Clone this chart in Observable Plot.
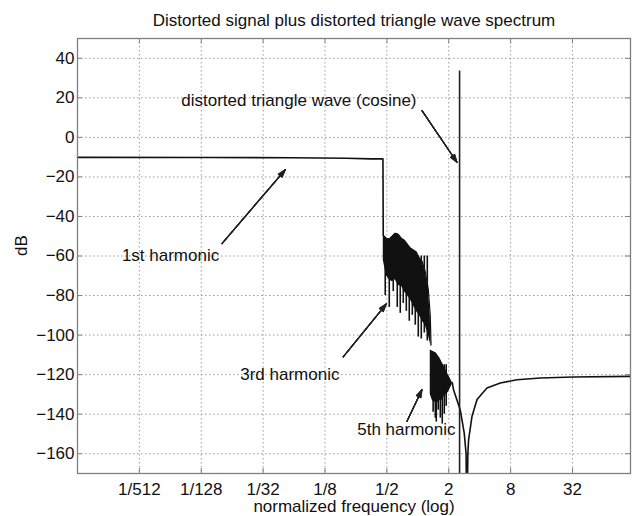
<!DOCTYPE html>
<html>
<head>
<meta charset="utf-8">
<script src="https://cdn.jsdelivr.net/npm/d3@7"></script>
<script src="https://cdn.jsdelivr.net/npm/@observablehq/plot@0.6"></script>
<style>
  html, body { margin: 0; padding: 0; background: #fff; }
  #chart svg { display: block; }
</style>
</head>
<body>
<div id="chart"></div>
<script>
// Axis ticks
const xTickValues = [1/512, 1/128, 1/32, 1/8, 1/2, 2, 8, 32];
const xTickLabels = ["1/512", "1/128", "1/32", "1/8", "1/2", "2", "8", "32"];
const yTickValues = [40, 20, 0, -20, -40, -60, -80, -100, -120, -140, -160];
const xDomain = [1/2048, 117.4];
const yDomain = [-170, 50];

// Fundamental (1st harmonic) plateau and its drop into the 3rd-harmonic band
const fundFreq = [0.000488, 0.01, 0.06, 0.2, 0.35, 0.458, 0.461];
const fundDb   = [-10.1, -10.2, -10.3, -10.6, -10.9, -10.9, -49.5];

// 3rd-harmonic band: upper and lower edge of the dense spectrum
const band1Freq   = [0.4613, 0.4935, 0.5278, 0.5646, 0.6037, 0.6456, 0.6905, 0.7385, 0.79, 0.845, 0.9036, 0.9666, 1.034, 1.106, 1.183, 1.265, 1.322, 1.345];
const band1Top    = [-49.5, -51, -51.5, -50, -48.5, -49, -51, -52, -54, -56, -57, -58, -61, -63, -68, -77, -90, -105];
const band1Bottom = [-62, -70, -72, -73, -72, -75, -75, -78, -80, -82, -85, -88, -90, -93, -95, -100, -104, -106];
// deepest dips inside the 3rd-harmonic band
const spike1Freq = [0.482, 0.5278, 0.577, 0.631, 0.675, 0.722, 0.773, 0.826, 0.884, 0.945, 1.011, 1.081, 1.157, 1.237];
const spike1Low  = [-80, -86, -78, -86, -89, -84, -88, -93, -90, -95, -101, -102, -99, -103];

// 5th-harmonic band
const band2Freq   = [1.322, 1.383, 1.447, 1.513, 1.582, 1.655, 1.730, 1.810, 1.893, 1.980, 2.071, 2.164];
const band2Top    = [-107.5, -108, -108.5, -109, -110.5, -112, -114, -116, -118, -120, -122, -124];
const band2Bottom = [-130, -133, -134, -134, -134, -133, -133, -131, -130, -129, -127, -125];
const spike2Freq = [1.41, 1.48, 1.513, 1.58, 1.655, 1.73, 1.81, 1.89];
const spike2Low  = [-139, -142, -144, -138, -142, -145, -140, -136];

// Smooth tail with the notch near 3
const tailFreq = [2.164, 2.23, 2.59, 2.83, 2.95, 3.0, 3.07, 3.12, 3.37, 3.77, 4.71, 6.35, 9.23, 15.6, 32.6, 117.4];
const tailDb   = [-124, -127.8, -137.9, -149.6, -160, -200, -160, -153, -141, -132.6, -126.8, -124.2, -122.6, -121.7, -121.2, -120.9];

// Distorted triangle wave (cosine) line
const toneFreq = [2.55];
const toneDb   = [33.6];

// Annotations
const annLabels    = ["distorted triangle wave (cosine)", "1st harmonic", "3rd harmonic", "5th harmonic"];
const annTextFreq  = [0.00499, 0.00132, 0.01872, 0.2574];
const annTextDb    = [18.5, -59.6, -120.1, -147.7];
const arrowFromFreq = [1.098, 0.01243, 0.188, 0.785];
const arrowFromDb   = [13.5, -53.7, -111, -143.6];
const arrowToFreq   = [2.405, 0.0513, 0.493, 1.098];
const arrowToDb     = [-12.6, -16.4, -84.3, -127.6];

const titleText = "Distorted signal plus distorted triangle wave spectrum";
const xLabel = "normalized frequency (log)";
const yLabel = "dB";

// Tables built from the arrays above
const fund = fundFreq.map((f, i) => ({f, db: fundDb[i]}));
const band1 = band1Freq.map((f, i) => ({f, top: band1Top[i], bottom: band1Bottom[i]}));
const spikes1 = spike1Freq.map((f, i) => ({f, low: spike1Low[i]}));
const band2 = band2Freq.map((f, i) => ({f, top: band2Top[i], bottom: band2Bottom[i]}));
const spikes2 = spike2Freq.map((f, i) => ({f, low: spike2Low[i]}));
const tail = tailFreq.map((f, i) => ({f, db: tailDb[i]}));
const tone = toneFreq.map((f, i) => ({f, db: toneDb[i]}));
const notes = annLabels.map((label, i) => ({
  label, tf: annTextFreq[i], tdb: annTextDb[i],
  x1: arrowFromFreq[i], y1: arrowFromDb[i], x2: arrowToFreq[i], y2: arrowToDb[i]
}));

// label lookup for the power-of-two frequency ticks
const xTickText = d => {
  const i = xTickValues.findIndex(v => Math.abs(Math.log2(v) - Math.log2(d)) < 1e-6);
  return i >= 0 ? xTickLabels[i] : "";
};

const W = 632, H = 516;
const mTop = 38, mBottom = 43, mLeft = 77, mRight = 2;
const frameW = W - mLeft - mRight, frameH = H - mTop - mBottom;
const tickLen = 5;
const ink = "#111";
const axisGray = "#808080";
const font = "17px";

// filled-looking arrowheads: stacked chevrons of widening angle
const arrowLayers = [6, 14, 22, 30, 38].map(a => Plot.arrow(notes, {
  x1: "x1", y1: "y1", x2: "x2", y2: "y2",
  headAngle: a, headLength: 11, stroke: "#222", strokeWidth: 1.1
}));

const chart = Plot.plot({
  width: W,
  height: H,
  marginTop: mTop,
  marginBottom: mBottom,
  marginLeft: mLeft,
  marginRight: mRight,
  style: {fontFamily: "'Liberation Sans', Arial, Helvetica, sans-serif", fontSize: font, color: ink, background: "#fff"},
  x: {type: "log", base: 2, domain: xDomain},
  y: {domain: yDomain},
  marks: [
    Plot.gridX(xTickValues, {stroke: "#9a9a9a", strokeOpacity: 1, strokeDasharray: "1.5,2.5"}),
    Plot.gridY(yTickValues, {stroke: "#9a9a9a", strokeOpacity: 1, strokeDasharray: "1.5,2.5"}),
    // inward ticks on all four sides
    Plot.ruleY(yTickValues, {y: d => d, insetRight: frameW - tickLen, stroke: axisGray}),
    Plot.ruleY(yTickValues, {y: d => d, insetLeft: frameW - tickLen, stroke: axisGray}),
    Plot.ruleX(xTickValues, {x: d => d, insetTop: frameH - tickLen, stroke: axisGray}),
    Plot.ruleX(xTickValues, {x: d => d, insetBottom: frameH - tickLen, stroke: axisGray}),
    Plot.axisX(xTickValues, {text: xTickText, tickSize: 0, tickPadding: 9, label: null, fontSize: font}),
    Plot.axisY(yTickValues, {tickFormat: d => d < 0 ? "\u2212" + Math.abs(d) : String(d), tickSize: 0, tickPadding: 3, label: null, fontSize: font}),
    // spectrum
    Plot.line(fund, {x: "f", y: "db", stroke: ink, strokeWidth: 1.6}),
    Plot.areaY(band1, {x: "f", y1: "bottom", y2: "top", fill: ink}),
    Plot.line(band1, {x: "f", y: "top", stroke: ink, strokeWidth: 1.2}),
    Plot.ruleX(spikes1, {x: "f", y1: "low", y2: -60, stroke: ink, strokeWidth: 1.6}),
    Plot.areaY(band2, {x: "f", y1: "bottom", y2: "top", fill: ink}),
    Plot.ruleX(spikes2, {x: "f", y1: "low", y2: -115, stroke: ink, strokeWidth: 1.6}),
    Plot.line(tail, {x: "f", y: "db", stroke: ink, strokeWidth: 1.6, clip: true}),
    Plot.ruleX(tone, {x: "f", y1: yDomain[0], y2: "db", stroke: "#222", strokeWidth: 1.6}),
    // annotations
    ...arrowLayers,
    Plot.text(notes, {x: "tf", y: "tdb", text: "label", textAnchor: "start", fill: ink, fontSize: font}),
    // titles
    Plot.text([titleText], {frameAnchor: "top", lineAnchor: "middle", dy: -18, fill: ink, fontSize: font}),
    Plot.text([xLabel], {frameAnchor: "bottom", lineAnchor: "middle", dy: 33.5, fill: ink, fontSize: font}),
    Plot.text([yLabel], {frameAnchor: "left", lineAnchor: "middle", dx: -56, rotate: -90, fill: ink, fontSize: font}),
    Plot.frame({stroke: axisGray, strokeWidth: 1.3})
  ]
});

document.getElementById("chart").appendChild(chart);
</script>
</body>
</html>
